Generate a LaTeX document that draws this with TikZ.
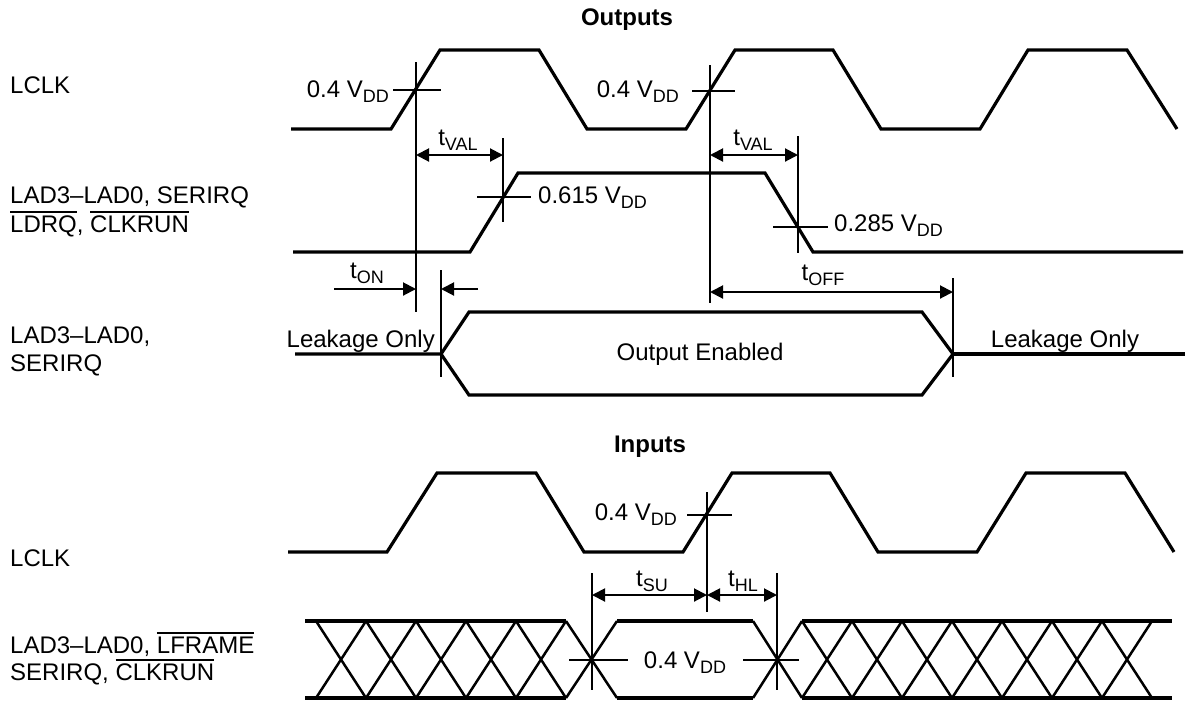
\documentclass[tikz,border=0pt]{standalone}
\usepackage{fontspec}
\setmainfont{Liberation Sans}
\usepackage{tikz}
\usetikzlibrary{arrows.meta}

\newcommand{\sub}[1]{\raisebox{-5pt}{\fontsize{18}{18}\selectfont #1}}
\newcommand{\ovl}[1]{\vbox{\hrule height 1.8pt\kern 2.6pt\hbox{#1}}}

\begin{document}
\begin{tikzpicture}[x=1pt, y=-1pt,
  font=\fontsize{24}{28}\selectfont,
  wave/.style={line width=3.2pt},
  guide/.style={line width=2pt},
  hatch/.style={line width=2.5pt},
  timing/.style={line width=2pt, {Triangle[length=13pt,width=13pt]}-{Triangle[length=13pt,width=13pt]}},
  halftiming/.style={line width=2pt, -{Triangle[length=13pt,width=13pt]}},
  lbl/.style={inner sep=0pt}]
\useasboundingbox (0,0) rectangle (1188,705);

% ---------------- Outputs
\node[lbl, anchor=base, font=\fontsize{24}{28}\selectfont\bfseries] (outT) at (627,25) {Outputs};
\node[lbl, anchor=base west] (lclkO) at (10,93) {LCLK};
\node[lbl, anchor=base west] (ladOa) at (10,203) {LAD3--LAD0, SERIRQ};
\node[lbl, anchor=base west] (ladOb) at (10,232) {\ovl{LDRQ}, \ovl{CLKRUN}};
\node[lbl, anchor=base west] (ladEa) at (10,343) {LAD3--LAD0,};
\node[lbl, anchor=base west] (ladEb) at (10,371) {SERIRQ};

% clock
\draw[wave] (291,129) -- (391,129) -- (440,50) -- (539,50) -- (587,129) -- (686,129)
  -- (735,50) -- (833,50) -- (881,129) -- (980,129) -- (1028,50) -- (1127,50) -- (1177,129);
% data out
\draw[wave] (293,252) -- (470,252) -- (518,173) -- (765,173) -- (813,252) -- (1183,252);
% enable
\draw[wave] (295,354) -- (441,354) -- (469,312) -- (922,312) -- (953,354) -- (922,395)
  -- (469,395) -- (441,354);
\draw[wave] (953,354) -- (1185,354);

% reference points
\coordinate (c1) at (416,90);
\coordinate (c2) at (710,91);
\coordinate (v1) at (503,197);
\coordinate (v2) at (798,227);

\draw[guide] (416,62) -- (416,312);
\draw[guide] (710,65) -- (710,303);
\draw[guide] (503,138) -- (503,222);
\draw[guide] (798,136) -- (798,253);
\draw[guide] (441,270) -- (441,377);
\draw[guide] (953,278) -- (953,377);
\draw[guide] (393,90) -- (441,90);
\draw[guide] (692,91) -- (735,91);
\draw[guide] (477,197) -- (531,197);
\draw[guide] (773,227) -- (828,227);

\node[lbl, anchor=base east] (vc1) at (389,97) {0.4 V\sub{DD}};
\node[lbl, anchor=base east] (vc2) at (679,97) {0.4 V\sub{DD}};
\node[lbl, anchor=base west] (vh) at (538,203) {0.615 V\sub{DD}};
\node[lbl, anchor=base west] (vl) at (834,231) {0.285 V\sub{DD}};

% timings
\coordinate (val1a) at (416,155);
\coordinate (val1b) at (503,155);
\coordinate (val2a) at (710,155);
\coordinate (val2b) at (798,155);
\draw[timing] (val1a) -- (val1b);
\draw[timing] (val2a) -- (val2b);
\node[lbl, anchor=base] (tval1) at (458,145) {t\sub{VAL}};
\node[lbl, anchor=base] (tval2) at (753,145) {t\sub{VAL}};

\coordinate (onL) at (334,289);
\coordinate (onA) at (416,289);
\coordinate (onR) at (478,289);
\coordinate (onB) at (441,289);
\draw[halftiming] (onL) -- (onA);
\draw[halftiming] (onR) -- (onB);
\node[lbl, anchor=base] (ton) at (367,278) {t\sub{ON}};

\coordinate (offA) at (710,292);
\coordinate (offB) at (953,292);
\draw[timing] (offA) -- (offB);
\node[lbl, anchor=base] (toff) at (823,280) {t\sub{OFF}};

\node[lbl, anchor=base east] (leak1) at (435,347) {Leakage Only};
\node[lbl, anchor=base] (leak2) at (1065,347) {Leakage Only};
\node[lbl, anchor=base] (oen) at (700,360) {Output Enabled};

% ---------------- Inputs
\node[lbl, anchor=base, font=\fontsize{24}{28}\selectfont\bfseries] (inT) at (650,452) {Inputs};
\node[lbl, anchor=base west] (lclkI) at (10,566) {LCLK};
\node[lbl, anchor=base west] (ladIa) at (10,653) {LAD3--LAD0, \ovl{LFRAME}};
\node[lbl, anchor=base west] (ladIb) at (10,680) {SERIRQ, \ovl{CLKRUN}};

\draw[wave] (288,552) -- (387,552) -- (437,473) -- (536,473) -- (584,552) -- (683,552)
  -- (732,473) -- (830,473) -- (878,552) -- (977,552) -- (1026,473) -- (1125,473) -- (1174,552);

% bus
\draw[wave] (305,621) -- (566,621) (305,698) -- (566,698);
\foreach \x in {316,366,...,516}
  \draw[hatch] (\x,621) -- (\x+50,698) (\x,698) -- (\x+50,621);
\draw[hatch] (566,621) -- (617,698) (566,698) -- (617,621);
\draw[wave] (617,621) -- (753,621) (617,698) -- (753,698);
\draw[hatch] (753,621) -- (802,698) (753,698) -- (802,621);
\draw[wave] (802,621) -- (1172,621) (802,698) -- (1172,698);
\foreach \x in {802,852,...,1102}
  \draw[hatch] (\x,621) -- (\x+50,698) (\x,698) -- (\x+50,621);

\coordinate (c3) at (707,515);
\draw[guide] (707,492) -- (707,612);
\draw[guide] (687,515) -- (732,515);
\draw[guide] (592,573) -- (592,690);
\draw[guide] (777,573) -- (777,690);
\draw[guide] (569,660) -- (628,660);
\draw[guide] (743,660) -- (799,660);

\node[lbl, anchor=base east] (vc3) at (677,520) {0.4 V\sub{DD}};
\node[lbl, anchor=base] (vc4) at (685,668) {0.4 V\sub{DD}};

\coordinate (suA) at (592,595);
\coordinate (suB) at (707,595);
\coordinate (hlB) at (777,595);
\draw[timing] (suA) -- (suB);
\draw[timing] (suB) -- (hlB);
\node[lbl, anchor=base] (tsu) at (652,586) {t\sub{SU}};
\node[lbl, anchor=base] (thl) at (743,586) {t\sub{HL}};
\end{tikzpicture}
\end{document}
